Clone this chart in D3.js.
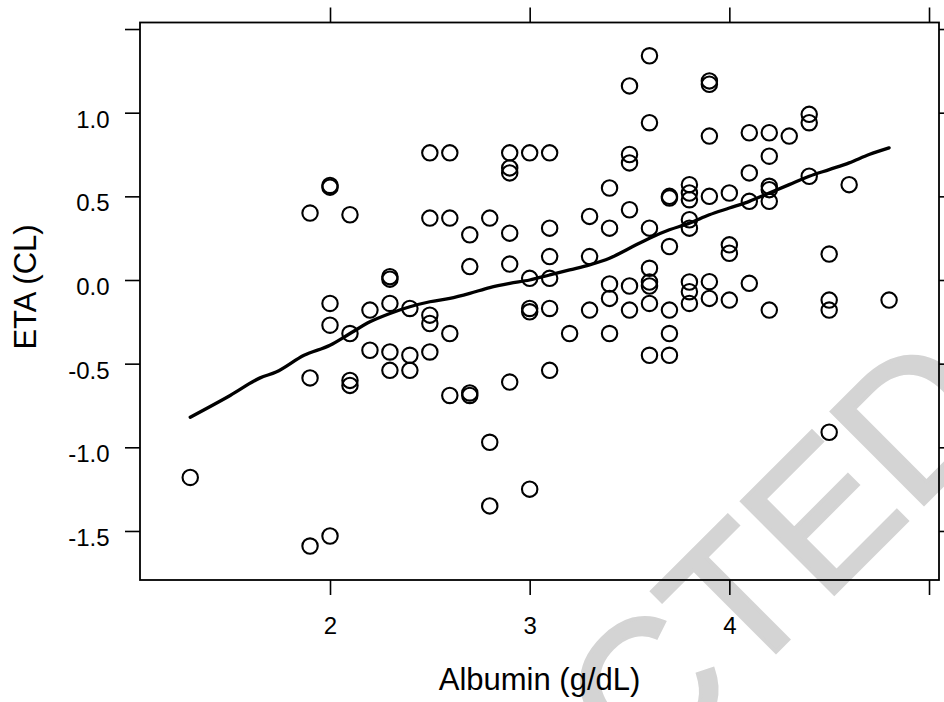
<!DOCTYPE html>
<html>
<head>
<meta charset="utf-8">
<script src="https://cdn.jsdelivr.net/npm/d3@7/dist/d3.min.js"></script>
<style>
  html, body { margin: 0; padding: 0; background: #fff; }
  svg { display: block; }
  text { font-family: "Liberation Sans", Arial, sans-serif; fill: #000; }
</style>
</head>
<body>
<script>
// Albumin (g/dL) and individual ETA on clearance, one entry per subject
const albumin = [
  1.3,
  1.9, 1.9, 1.9,
  2.0, 2.0, 2.0, 2.0, 2.0,
  2.1, 2.1, 2.1, 2.1,
  2.2, 2.2,
  2.3, 2.3, 2.3, 2.3, 2.3,
  2.4, 2.4, 2.4,
  2.5, 2.5, 2.5, 2.5, 2.5,
  2.6, 2.6, 2.6, 2.6,
  2.7, 2.7, 2.7, 2.7,
  2.8, 2.8, 2.8,
  2.9, 2.9, 2.9, 2.9, 2.9, 2.9,
  3.0, 3.0, 3.0, 3.0, 3.0,
  3.1, 3.1, 3.1, 3.1, 3.1, 3.1,
  3.2,
  3.3, 3.3, 3.3,
  3.4, 3.4, 3.4, 3.4, 3.4,
  3.5, 3.5, 3.5, 3.5, 3.5, 3.5,
  3.6, 3.6, 3.6, 3.6, 3.6, 3.6, 3.6, 3.6,
  3.7, 3.7, 3.7, 3.7, 3.7, 3.7,
  3.8, 3.8, 3.8, 3.8, 3.8, 3.8, 3.8, 3.8,
  3.9, 3.9, 3.9, 3.9, 3.9, 3.9,
  4.0, 4.0, 4.0, 4.0,
  4.1, 4.1, 4.1, 4.1,
  4.2, 4.2, 4.2, 4.2, 4.2, 4.2,
  4.3,
  4.4, 4.4, 4.4,
  4.5, 4.5, 4.5, 4.5,
  4.6,
  4.8
];
const etaCL = [
  -1.18,
  0.40, -0.585, -1.59,
  0.565, 0.555, -0.14, -0.27, -1.53,
  0.39, -0.32, -0.60, -0.63,
  -0.18, -0.42,
  0.02, 0.005, -0.14, -0.43, -0.54,
  -0.17, -0.45, -0.54,
  0.76, 0.37, -0.21, -0.26, -0.43,
  0.76, 0.37, -0.32, -0.69,
  0.27, 0.08, -0.675, -0.69,
  0.37, -0.97, -1.35,
  0.76, 0.67, 0.64, 0.28, 0.095, -0.61,
  0.76, 0.01, -0.17, -0.19, -1.25,
  0.76, 0.31, 0.14, 0.01, -0.17, -0.54,
  -0.32,
  0.38, 0.14, -0.18,
  0.55, 0.31, -0.024, -0.11, -0.32,
  1.16, 0.75, 0.70, 0.42, -0.036, -0.18,
  1.34, 0.94, 0.31, 0.07, -0.012, -0.036, -0.14, -0.45,
  0.50, 0.49, 0.20, -0.18, -0.32, -0.45,
  0.57, 0.52, 0.48, 0.36, 0.31, -0.012, -0.07, -0.14,
  1.19, 1.17, 0.86, 0.50, -0.01, -0.11,
  0.52, 0.21, 0.16, -0.12,
  0.88, 0.64, 0.47, -0.02,
  0.88, 0.74, 0.56, 0.54, 0.47, -0.18,
  0.86,
  0.99, 0.94, 0.62,
  0.155, -0.12, -0.18, -0.91,
  0.57,
  -0.12
];

// Smoothed trend through the scatter
const smoothX = [1.3, 1.5, 1.65, 1.73, 1.87, 2.0, 2.1, 2.2, 2.3, 2.4, 2.5, 2.6, 2.7, 2.8, 2.9,
                 3.0, 3.1, 3.2, 3.3, 3.4, 3.5, 3.6, 3.7, 3.8, 3.9, 4.0, 4.1, 4.2, 4.3, 4.4,
                 4.5, 4.6, 4.7, 4.8];
const smoothY = [-0.82, -0.69, -0.585, -0.55, -0.45, -0.39, -0.32, -0.25, -0.20, -0.16, -0.13,
                 -0.11, -0.08, -0.045, -0.02, 0.0, 0.03, 0.06, 0.09, 0.13, 0.19, 0.25, 0.30,
                 0.34, 0.39, 0.43, 0.47, 0.52, 0.57, 0.62, 0.66, 0.70, 0.75, 0.79];

const xTicks = [2, 3, 4, 5];
const xTickLabels = ["2", "3", "4", ""];
const yTicks = [-1.5, -1.0, -0.5, 0.0, 0.5, 1.0, 1.5];
const yTickLabels = ["-1.5", "-1.0", "-0.5", "0.0", "0.5", "1.0", ""];

const W = 944, H = 702;
const panel = { left: 140, right: 939, top: 22.5, bottom: 580 };

const svg = d3.select("body").append("svg")
  .attr("width", W).attr("height", H);

const x = d3.scaleLinear().domain([1.0484, 5.05]).range([panel.left, panel.right]);
const y = d3.scaleLinear().domain([-1.793, 1.539]).range([panel.bottom, panel.top]);

// Background stamp, running off the lower-right corner
svg.append("text")
  .attr("transform", "translate(1010,418) rotate(-45)")
  .attr("text-anchor", "end")
  .style("font-size", "190px")
  .style("fill", "#d4d4d4")
  .style("stroke", "#d4d4d4")
  .style("stroke-width", 3.5)
  .style("stroke-linejoin", "miter")
  .text("REDACTED");

// Tick marks on all four sides
const tickLen = 15;
const tickFont = "'Liberation Sans', Arial, sans-serif";
function styleAxis(g) {
  g.select(".domain").remove();
  g.selectAll(".tick line").attr("stroke", "#000").attr("stroke-width", 1.6);
}

svg.append("g").attr("transform", `translate(0,${panel.bottom})`)
  .call(d3.axisBottom(x).tickValues(xTicks).tickSize(tickLen).tickFormat((d, i) => xTickLabels[i]))
  .call(styleAxis)
  .call(g => g.selectAll(".tick text")
    .attr("y", 54).attr("dy", null)
    .style("font-size", "24px").style("font-family", tickFont));

svg.append("g").attr("transform", `translate(0,${panel.top})`)
  .call(d3.axisTop(x).tickValues(xTicks).tickSize(tickLen).tickFormat(""))
  .call(styleAxis);

svg.append("g").attr("transform", `translate(${panel.left},0)`)
  .call(d3.axisLeft(y).tickValues(yTicks).tickSize(tickLen).tickPadding(15.5)
    .tickFormat((d, i) => yTickLabels[i]))
  .call(styleAxis)
  .call(g => g.selectAll(".tick text")
    .attr("dy", "14.6")
    .style("font-size", "24px").style("font-family", tickFont));

svg.append("g").attr("transform", `translate(${panel.right},0)`)
  .call(d3.axisRight(y).tickValues(yTicks).tickSize(tickLen).tickFormat(""))
  .call(styleAxis);

// Panel frame
svg.append("rect")
  .attr("x", panel.left).attr("y", panel.top)
  .attr("width", panel.right - panel.left).attr("height", panel.bottom - panel.top)
  .attr("fill", "none").attr("stroke", "#000").attr("stroke-width", 1.8);

// Points
svg.append("g").selectAll("circle")
  .data(albumin.map((a, i) => [a, etaCL[i]]))
  .join("circle")
  .attr("cx", d => x(d[0]))
  .attr("cy", d => y(d[1]))
  .attr("r", 7.7)
  .attr("fill", "none")
  .attr("stroke", "#000")
  .attr("stroke-width", 2.1);

// Trend line
const line = d3.line().x(d => x(d[0])).y(d => y(d[1])).curve(d3.curveMonotoneX);
svg.append("path")
  .datum(smoothX.map((v, i) => [v, smoothY[i]]))
  .attr("d", line)
  .attr("fill", "none")
  .attr("stroke", "#000")
  .attr("stroke-width", 3.3)
  .attr("stroke-linejoin", "round")
  .attr("stroke-linecap", "round");

// Axis titles
svg.append("text")
  .attr("x", (panel.left + panel.right) / 2).attr("y", 690)
  .attr("text-anchor", "middle")
  .style("font-size", "31px")
  .text("Albumin (g/dL)");

svg.append("text")
  .attr("transform", "translate(35.5,287) rotate(-90)")
  .attr("text-anchor", "middle")
  .style("font-size", "31px")
  .text("ETA (CL)");
</script>
</body>
</html>
